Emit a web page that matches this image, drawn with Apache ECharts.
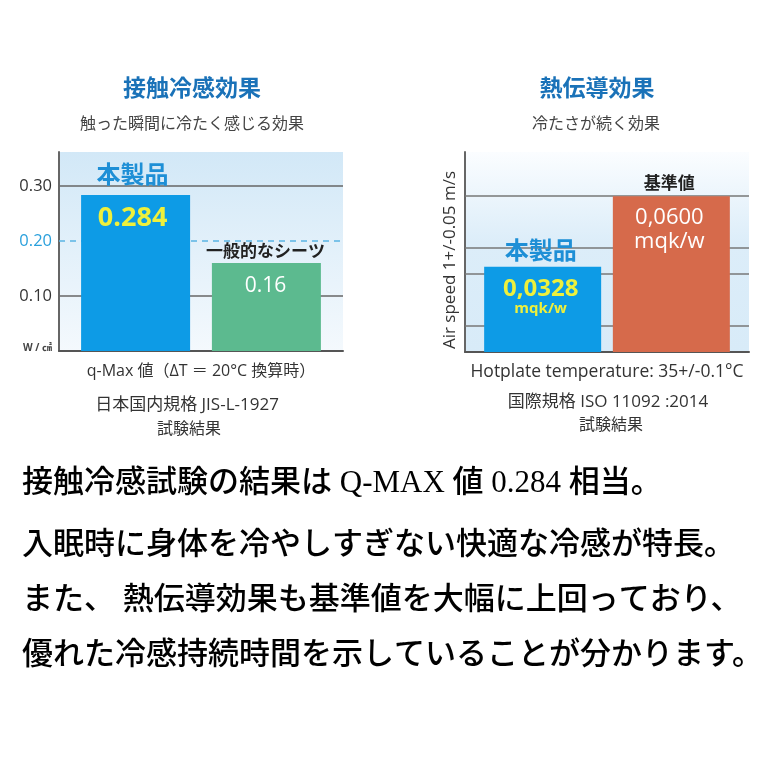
<!DOCTYPE html>
<html><head><meta charset="utf-8">
<script src="https://cdn.jsdelivr.net/npm/echarts@6/dist/echarts.min.js"></script>
<style>html,body{margin:0;padding:0;background:#fff}#c{width:780px;height:780px}</style>
</head><body><div id="c"></div>
<script>
// ---- data ----
const leftTitle = '接触冷感効果';
const leftSubtitle = '触った瞬間に冷たく感じる効果';
const leftCategories = ['本製品', '一般的なシーツ'];
const leftValues = [0.284, 0.16];
const leftValueLabels = ['0.284', '0.16'];
const leftTicks = [0.1, 0.2, 0.3];
const leftTickLabels = ['0.10', '0.20', '0.30'];
const leftUnit = 'W / ㎠';
const leftXName = 'q-Max 値（ΔT ＝ 20°C 換算時）';
const leftNote = ['日本国内規格 JIS-L-1927', '試験結果'];

const rightTitle = '熱伝導効果';
const rightSubtitle = '冷たさが続く効果';
const rightCategories = ['本製品', '基準値'];
const rightValues = [0.0328, 0.0600];
const rightValueLabels = ['0,0328', '0,0600'];
const rightValueUnit = 'mqk/w';
const rightTicks = [0.015, 0.03, 0.045, 0.06];
const rightYName = 'Air speed 1+/-0.05 m/s';
const rightXName = 'Hotplate temperature: 35+/-0.1°C';
const rightNote = ['国際規格 ISO 11092 :2014', '試験結果'];

const paragraph = [
  '接触冷感試験の結果は Q-MAX 値 0.284 相当。',
  '入眠時に身体を冷やしすぎない快適な冷感が特長。',
  'また、 熱伝導効果も基準値を大幅に上回っており、',
  '優れた冷感持続時間を示していることが分かります。'
];

// ---- styles ----
const CJK = "'Noto Sans CJK JP', sans-serif";
const LAT = "'Open Sans', 'Noto Sans CJK JP', sans-serif";
const SERIF = "'Liberation Serif', 'Noto Sans CJK JP', serif";
const BLUE = '#0d9be6', GREEN = '#5cba8f', ORANGE = '#d66a4b';
const NAMEBLUE = '#1e8fd6', YELLOW = '#eef03c';

const chart = echarts.init(document.getElementById('c'), null, {renderer: 'canvas'});

const leftBg = new echarts.graphic.LinearGradient(0, 0, 0, 1, [
  {offset: 0, color: '#d2e8f7'}, {offset: 1, color: '#f4f9fd'}]);
const rightBg = new echarts.graphic.LinearGradient(0, 0, 0, 1, [
  {offset: 0, color: '#fbfdff'}, {offset: 0.45, color: '#dcedf9'}, {offset: 1, color: '#d8ebf8'}]);

const leftLabelCfg = [
  {offset: [-3, -43], nL: 44, vL: 44, nSize: 24, nColor: NAMEBLUE, vSize: 27, vColor: YELLOW, vWeight: 'bold'},
  {offset: [-1, -32], nL: 40, vL: 30, nSize: 17, nColor: '#222', vSize: 21, vColor: '#ffffff', vWeight: 500}
];
const rightLabelCfg = [
  {offset: [-2, -44], nL: 54, vL: 24, uL: 16, nSize: 24, nColor: NAMEBLUE, vSize: 24, vColor: YELLOW, vWeight: 'bold', uSize: 15, uWeight: 'bold'},
  {offset: [-2, -38], nL: 48, vL: 24, uL: 24, nSize: 17, nColor: '#222', vSize: 22, vColor: '#ffffff', vWeight: 500, uSize: 22, uWeight: 500}
];
const leftColors = [BLUE, GREEN];
const rightColors = [BLUE, ORANGE];

const series = [];
leftValues.forEach((v, i) => {
  const c = leftLabelCfg[i];
  const s = {
    type: 'bar', xAxisIndex: 0, yAxisIndex: 0, z: 2,
    name: leftCategories[i],
    data: [v], barWidth: 109, barGap: '20%',
    itemStyle: {color: leftColors[i]},
    label: {
      show: true, position: 'insideTop', distance: 0, offset: c.offset,
      formatter: '{n|' + leftCategories[i] + '}\n{v|' + leftValueLabels[i] + '}',
      rich: {
        n: {fontFamily: CJK, fontSize: c.nSize, fontWeight: 'bold', color: c.nColor, lineHeight: c.nL, align: 'center'},
        v: {fontFamily: LAT, fontSize: c.vSize, fontWeight: c.vWeight, color: c.vColor, lineHeight: c.vL, align: 'center'}
      }
    }
  };
  if (i === 0) {
    s.markLine = {
      silent: true, symbol: 'none', z: 1, label: {show: false},
      data: leftTicks.map((t, k) => ({
        yAxis: t,
        lineStyle: k === 1 ? {color: '#5ab4e3', width: 1.5, type: [6, 5]} : {color: '#666', width: 1.5, type: 'solid'}
      }))
    };
  }
  series.push(s);
});
rightValues.forEach((v, i) => {
  const c = rightLabelCfg[i];
  const s = {
    type: 'bar', xAxisIndex: 1, yAxisIndex: 1, z: 2,
    name: rightCategories[i],
    data: [v], barWidth: 117, barGap: '10%',
    itemStyle: {color: rightColors[i]},
    label: {
      show: true, position: 'insideTop', distance: 0, offset: c.offset,
      formatter: '{n|' + rightCategories[i] + '}\n{v|' + rightValueLabels[i] + '}\n{u|' + rightValueUnit + '}',
      rich: {
        n: {fontFamily: CJK, fontSize: c.nSize, fontWeight: 'bold', color: c.nColor, lineHeight: c.nL, align: 'center'},
        v: {fontFamily: LAT, fontSize: c.vSize, fontWeight: c.vWeight, color: c.vColor, lineHeight: c.vL, align: 'center'},
        u: {fontFamily: LAT, fontSize: c.uSize, fontWeight: c.uWeight, color: c.vColor, lineHeight: c.uL, align: 'center'}
      }
    }
  };
  if (i === 0) {
    s.markLine = {
      silent: true, symbol: 'none', z: 1, label: {show: false},
      lineStyle: {color: '#777', width: 1.5, type: 'solid'},
      data: rightTicks.map(t => ({yAxis: t}))
    };
  }
  series.push(s);
});

function textEl(txt, x, y, size, color, weight, family, align) {
  return {type: 'text', x: x, y: y, silent: true,
    style: {text: txt, fill: color, font: (weight || 'normal') + ' ' + size + 'px ' + family,
      align: align || 'center', verticalAlign: 'middle'}};
}

const graphics = [
  textEl(leftTitle, 192, 87, 23, '#1a72b8', 'bold', CJK),
  textEl(leftSubtitle, 192, 123, 16, '#444', 'normal', CJK),
  textEl(leftNote[0], 187, 405, 17, '#333', 'normal', LAT),
  textEl(leftNote[1], 189, 428, 16, '#333', 'normal', CJK),
  textEl(rightTitle, 597, 87, 23, '#1a72b8', 'bold', CJK),
  textEl(rightSubtitle, 596, 123, 16, '#444', 'normal', CJK),
  textEl(rightNote[0], 608, 402, 17, '#333', 'normal', LAT),
  textEl(rightNote[1], 611, 424, 16, '#333', 'normal', CJK)
];
const paraY = [484, 546, 601, 656];
paragraph.forEach((p, i) => graphics.push(textEl(p, 22, paraY[i], 31, '#000', 500, SERIF, 'left')));

chart.setOption({
  animation: false,
  backgroundColor: '#ffffff',
  grid: [
    {left: 59, top: 152, width: 284, height: 199, show: true, backgroundColor: leftBg, borderWidth: 0},
    {left: 465, top: 152, width: 284, height: 200, show: true, backgroundColor: rightBg, borderWidth: 0}
  ],
  xAxis: [
    {type: 'category', gridIndex: 0, data: [''],
      axisLine: {lineStyle: {color: '#555', width: 2}}, axisTick: {show: false}, axisLabel: {show: false},
      name: leftXName, nameLocation: 'middle', nameGap: 12,
      nameTextStyle: {fontFamily: LAT, fontSize: 16, color: '#333', verticalAlign: 'top'}},
    {type: 'category', gridIndex: 1, data: [''],
      axisLine: {lineStyle: {color: '#555', width: 2}}, axisTick: {show: false}, axisLabel: {show: false},
      name: rightXName, nameLocation: 'middle', nameGap: 11,
      nameTextStyle: {fontFamily: LAT, fontSize: 17.5, color: '#333', verticalAlign: 'top'}}
  ],
  yAxis: [
    {type: 'value', gridIndex: 0, min: 0, max: 0.362, interval: 0.1,
      axisLine: {show: true, lineStyle: {color: '#666', width: 2}}, axisTick: {show: false},
      splitLine: {show: false}, showMaxLabel: false,
      axisLabel: {margin: 7, fontFamily: LAT, fontSize: 16.5,
        formatter: function (v) {
          if (Math.abs(v) < 1e-9) return '{u|' + leftUnit + '}';
          const k = leftTicks.findIndex(t => Math.abs(t - v) < 1e-6);
          return k >= 0 ? leftTickLabels[k] : '';
        },
        color: function (v) { return Math.abs(v - leftTicks[1]) < 1e-6 ? '#2aa0dc' : '#333'; },
        rich: {u: {fontFamily: LAT, fontSize: 10, fontWeight: 'bold', color: '#444', padding: [0, 0, 6, 0]}}
      }},
    {type: 'value', gridIndex: 1, min: 0, max: 0.077, interval: 0.015,
      axisLine: {show: true, lineStyle: {color: '#666', width: 2}}, axisTick: {show: false},
      splitLine: {show: false}, axisLabel: {show: false},
      name: rightYName, nameLocation: 'middle', nameGap: 6, nameRotate: 90,
      nameTextStyle: {fontFamily: LAT, fontSize: 17, color: '#333', verticalAlign: 'bottom', padding: [0, 16, 0, 0]}}
  ],
  series: series,
  graphic: graphics
});
</script></body></html>
